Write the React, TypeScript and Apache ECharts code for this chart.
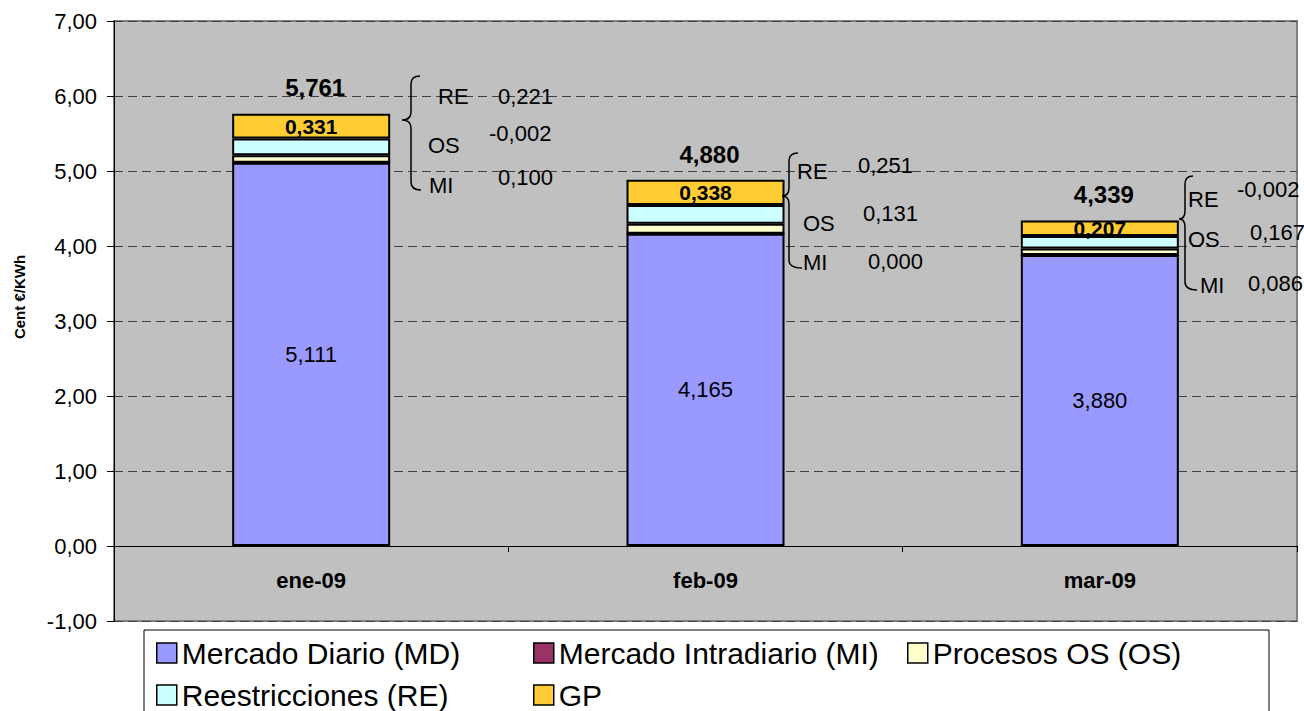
import React, { useEffect, useRef } from 'react';
import * as echarts from 'echarts';

const categories = ['ene-09', 'feb-09', 'mar-09'];
const mdValues = [5.111, 4.165, 3.88];
const miValues = [0, 0, 0];
const osValues = [0.1, 0.131, 0.086];
const reValues = [0.221, 0.251, 0.167];
const gpValues = [0.331, 0.338, 0.207];
const totals = [5.761, 4.88, 4.339];

const annotRE = ['0,221', '0,251', '-0,002'];
const annotOS = ['-0,002', '0,131', '0,167'];
const annotMI = ['0,100', '0,000', '0,086'];

const seriesNames = [
  'Mercado Diario (MD)',
  'Mercado Intradiario (MI)',
  'Procesos OS (OS)',
  'Reestricciones (RE)',
  'GP',
];
const seriesColors = ['#9999FF', '#993366', '#FFFFCC', '#CCFFFF', '#FFCC33'];

const FONT = '"Liberation Sans", Arial, Helvetica, sans-serif';

const fmt3 = (v: number) => v.toFixed(3).replace('.', ',');
const fmt2 = (v: number) => v.toFixed(2).replace('.', ',');

echarts.graphic.registerShape(
  'brace',
  echarts.graphic.extendShape({
    shape: { px: 0, sx: 0, ex: 0, ex2: 0, top: 0, mid: 0, bottom: 0, r: 8 },
    buildPath(ctx: any, s: any) {
      ctx.moveTo(s.ex, s.top);
      ctx.quadraticCurveTo(s.sx, s.top, s.sx, s.top + s.r);
      ctx.lineTo(s.sx, s.mid - s.r);
      ctx.quadraticCurveTo(s.sx, s.mid, s.px, s.mid);
      ctx.quadraticCurveTo(s.sx, s.mid, s.sx, s.mid + s.r);
      ctx.lineTo(s.sx, s.bottom - s.r);
      ctx.quadraticCurveTo(s.sx, s.bottom, s.ex2, s.bottom);
    },
  })
);

// annotation layout (pixels)
const annotLayout = [
  {
    brace: { px: 402, sx: 411, ex: 420, ex2: 421, top: 76, mid: 120, bottom: 190 },
    re: [438, 96], os: [428, 145], mi: [429, 185],
    vre: [498, 96], vos: [489, 133], vmi: [498, 177],
  },
  {
    brace: { px: 782, sx: 789, ex: 798, ex2: 802, top: 153, mid: 196, bottom: 268 },
    re: [797, 171], os: [803, 223], mi: [803, 262],
    vre: [858, 165], vos: [863, 213], vmi: [868, 261],
  },
  {
    brace: { px: 1179, sx: 1185, ex: 1193, ex2: 1197, top: 176, mid: 219, bottom: 290 },
    re: [1188, 199], os: [1188, 239], mi: [1200, 285],
    vre: [1237, 189], vos: [1250, 232], vmi: [1248, 283],
  },
];

// legend item placement (pixels): [left, top]
const legendPos = [
  [156, 638],
  [533, 638],
  [907, 638],
  [156, 680],
  [533, 680],
];

function buildGraphics() {
  const els: any[] = [];
  els.push({
    type: 'rect',
    z: 0,
    shape: { x: 144, y: 630, width: 1125, height: 100 },
    style: { fill: '#ffffff', stroke: '#000000', lineWidth: 1 },
    silent: true,
  });
  els.push({
    type: 'text',
    x: 19,
    y: 297,
    rotation: Math.PI / 2,
    style: {
      text: 'Cent €/KWh',
      fontSize: 15,
      fontWeight: 'bold',
      fontFamily: FONT,
      fill: '#000',
      align: 'center',
      verticalAlign: 'middle',
    },
  });
  const txt = (x: number, y: number, text: string) => ({
    type: 'text',
    x,
    y,
    z: 10,
    style: {
      text,
      fontSize: 22,
      fontFamily: FONT,
      fill: '#000',
      align: 'left',
      verticalAlign: 'middle',
    },
  });
  annotLayout.forEach((a, i) => {
    els.push({
      type: 'brace',
      z: 10,
      shape: { ...a.brace, r: 8 },
      style: { fill: 'none', stroke: '#000', lineWidth: 1.5 },
    });
    els.push(txt(a.re[0], a.re[1], 'RE'));
    els.push(txt(a.os[0], a.os[1], 'OS'));
    els.push(txt(a.mi[0], a.mi[1], 'MI'));
    els.push(txt(a.vre[0], a.vre[1], annotRE[i]));
    els.push(txt(a.vos[0], a.vos[1], annotOS[i]));
    els.push(txt(a.vmi[0], a.vmi[1], annotMI[i]));
  });
  return els;
}

export default function App() {
  const ref = useRef<HTMLDivElement>(null);
  useEffect(() => {
    if (!ref.current) return;
    const chart = echarts.init(ref.current, null, { renderer: 'svg' });
    const dataArrays = [mdValues, miValues, osValues, reValues, gpValues];
    const barSeries = seriesNames.map((name, i) => {
      const s: any = {
        name,
        type: 'bar',
        stack: 'total',
        data: dataArrays[i],
        barWidth: 158,
        itemStyle: { color: seriesColors[i], borderColor: '#000', borderWidth: 2 },
        emphasis: { disabled: true },
      };
      if (i === 0) {
        s.label = {
          show: true,
          position: 'inside',
          formatter: (p: any) => fmt3(p.value),
          fontSize: 22,
          fontFamily: FONT,
          color: '#000',
        };
      }
      if (i === 4) {
        s.label = {
          show: true,
          position: 'inside',
          formatter: (p: any) => fmt3(p.value),
          fontSize: 21,
          fontWeight: 'bold',
          fontFamily: FONT,
          color: '#000',
        };
      }
      return s;
    });
    const legends = seriesNames.map((name, i) => ({
      orient: 'horizontal',
      left: legendPos[i][0],
      top: legendPos[i][1],
      padding: 0,
      itemWidth: 20,
      itemHeight: 20,
      icon: 'rect',
      selectedMode: false,
      itemStyle: { borderColor: '#000', borderWidth: 1.5 },
      textStyle: { fontSize: 30, lineHeight: 30, fontFamily: FONT, color: '#000' },
      z: 5,
      data: [name],
    }));
    chart.setOption({
      animation: false,
      backgroundColor: '#ffffff',
      textStyle: { fontFamily: FONT },
      grid: {
        left: 114,
        top: 21,
        right: 7,
        bottom: 90,
        show: true,
        backgroundColor: '#C0C0C0',
        borderColor: '#808080',
        borderWidth: 2,
      },
      legend: legends,
      xAxis: {
        type: 'category',
        data: categories,
        axisLine: { show: true, onZero: true, lineStyle: { color: '#000', width: 1 } },
        axisTick: { show: true, length: 6, alignWithLabel: false, lineStyle: { color: '#000' } },
        axisLabel: { fontSize: 22, fontWeight: 'bold', color: '#000', margin: -52, fontFamily: FONT },
        splitLine: { show: false },
      },
      yAxis: {
        type: 'value',
        min: -1,
        max: 7,
        interval: 1,
        axisLine: { show: true, lineStyle: { color: '#000', width: 1 } },
        axisTick: { show: true, length: 7, inside: false, lineStyle: { color: '#000' } },
        axisLabel: {
          fontSize: 22,
          color: '#000',
          margin: 17,
          fontFamily: FONT,
          formatter: (v: number) => fmt2(v),
        },
        splitLine: { show: true, lineStyle: { color: '#404040', type: [9, 5], width: 1 } },
      },
      series: [
        ...barSeries,
        {
          name: 'Total',
          type: 'scatter',
          data: totals,
          symbolSize: 0,
          itemStyle: { color: '#000', opacity: 1 },
          emphasis: { disabled: true },
          label: {
            show: true,
            position: 'top',
            distance: 14,
            offset: [4, 0],
            formatter: (p: any) => fmt3(p.value),
            fontSize: 24,
            fontWeight: 'bold',
            fontFamily: FONT,
            color: '#000',
            opacity: 1,
          },
          z: 10,
        },
      ],
      graphic: buildGraphics(),
    });
    return () => chart.dispose();
  }, []);
  return (
    <div
      ref={ref}
      style={{ position: 'fixed', left: 0, top: 0, width: 1304, height: 711 }}
    />
  );
}
